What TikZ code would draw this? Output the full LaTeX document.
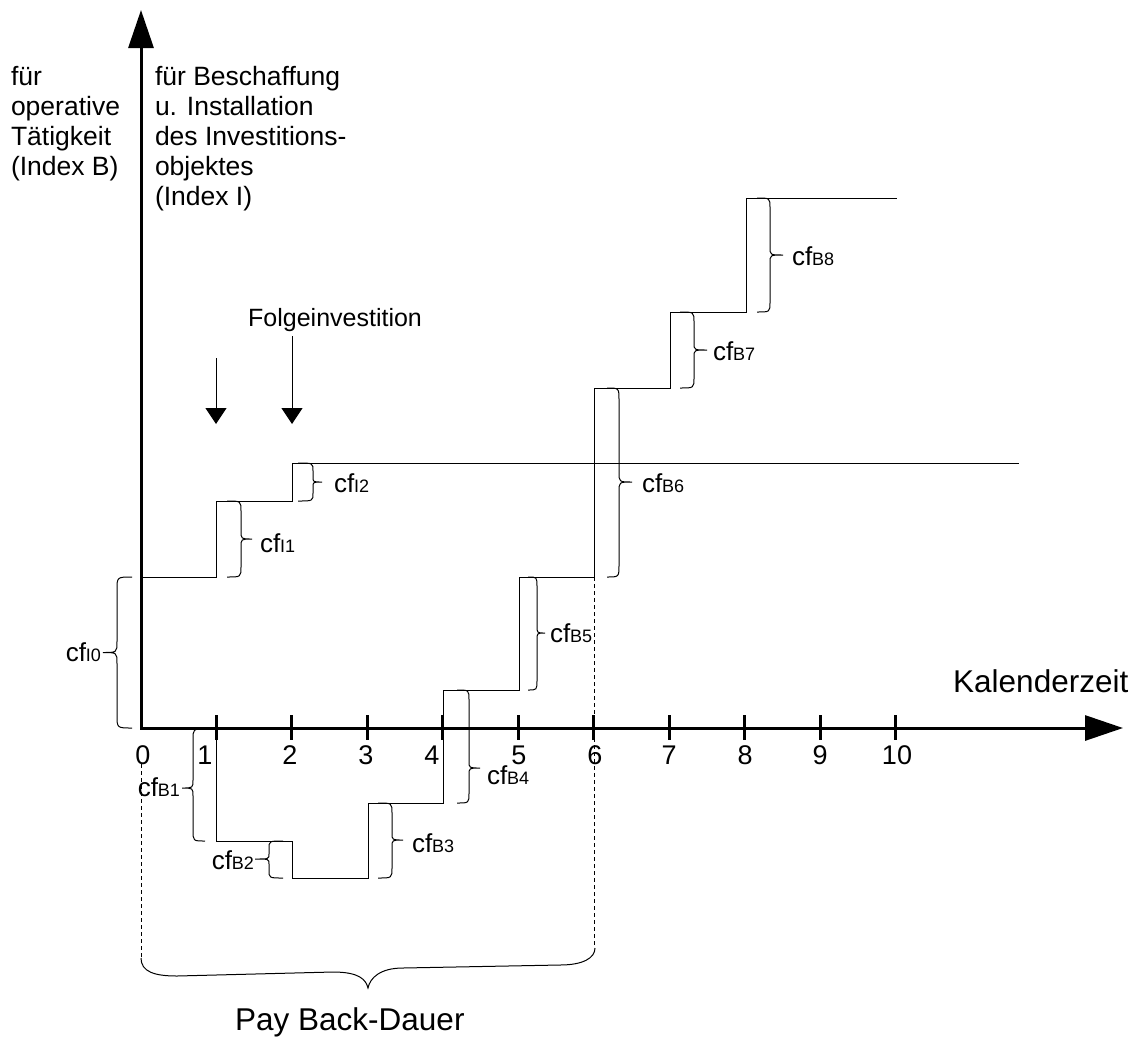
\documentclass[tikz,border=0pt]{standalone}
\usepackage{fontspec}
\setmainfont{Liberation Sans}
\usetikzlibrary{arrows.meta}

% a b c y1 y2 ym r t
\newcommand{\cfbrace}[8]{%
  \draw[bracestyle] (#1,#4) .. controls (#2,#4) .. (#2,#4+#7) -- (#2,#6-#8)
    .. controls (#2,#6) .. (#3,#6) .. controls (#2,#6) .. (#2,#6+#8)
    -- (#2,#5-#7) .. controls (#2,#5) .. (#1,#5);}
\newcommand{\cfl}[1]{{\fontsize{26}{26}\selectfont cf}{\fontsize{18}{18}\selectfont #1}}

\begin{document}
\begin{tikzpicture}[x=1pt,y=-1pt,
  axis/.style={line width=3pt,line join=miter,{Triangle[length=38pt,width=25pt]}-{Triangle[length=38pt,width=25pt]}},
  tickmark/.style={line width=3pt},
  stepline/.style={line width=1pt,line join=miter},
  bracestyle/.style={line width=1pt},
  dashline/.style={line width=1pt,dash pattern=on 4pt off 3pt},
  farrow/.style={line width=1pt,-{Triangle[length=16pt,width=21pt]}},
  txt/.style={inner sep=0pt,outer sep=0pt,font=\fontsize{26.5}{30}\selectfont},
  ticklab/.style={inner sep=0pt,anchor=base,font=\fontsize{27}{27}\selectfont},
  big/.style={inner sep=0pt,font=\fontsize{31.5}{31.5}\selectfont},
  lab/.style={inner sep=0pt,outer sep=0pt}]
\useasboundingbox (0,0) rectangle (1143,1037);

% axes
\coordinate (ytip) at (141,10);
\coordinate (origin) at (141,728);
\coordinate (xtip) at (1123,728);
\draw[axis] (ytip) -- (origin) -- (xtip);

% ticks and labels
\foreach \x/\lx/\t in {216/205/1,291/290/2,367/366/3,442/432/4,518/519/5,593/595/6,669/669/7,744/745/8,820/820/9,895/897/10}{
  \draw[tickmark] (\x,715) -- (\x,740);
  \node[ticklab] (t\t) at (\lx,764) {\t};
}
\node[ticklab] (t0) at (143,764) {0};

% axis texts
\node[txt,anchor=north west,align=left] (lefttxt) at (11,66) {für\\operative\\Tätigkeit\\(Index B)};
\node[txt,anchor=north west,align=left] (righttxt) at (155,66) {für Beschaffung\\u. Installation\\des Investitions-\\objektes\\(Index I)};
\node[big,anchor=base west] (kal) at (953,692) {Kalenderzeit};
\node[big,anchor=base west] (pay) at (235,1030) {Pay Back-Dauer};
\node[inner sep=0pt,anchor=base west,font=\fontsize{25}{25}\selectfont] (folge) at (248,326) {Folgeinvestition};

% Folgeinvestition arrows
\coordinate (fa1) at (216,358);
\coordinate (fb1) at (216,424);
\coordinate (fa2) at (292,336);
\coordinate (fb2) at (292,424);
\draw[farrow] (fa1) -- (fb1);
\draw[farrow] (fa2) -- (fb2);

% step lines
\draw[stepline] (141,577) -- (216,577) -- (216,501) -- (292,501) -- (292,463) -- (1019,463);
\draw[stepline] (216,728) -- (216,841) -- (292,841) -- (292,878) -- (368,878) -- (368,803)
  -- (443,803) -- (443,690) -- (519,690) -- (519,577) -- (594,577) -- (594,388)
  -- (670,388) -- (670,312) -- (746,312) -- (746,198) -- (897,198);

% dashed
\draw[dashline] (141,764) -- (141,958);
\draw[dashline] (594,577) -- (594,948);

% braces
\cfbrace{132}{117}{103}{577}{728}{652.5}{13}{11}
\cfbrace{227}{241}{252}{501}{577}{539}{10}{8}
\cfbrace{298}{313}{322}{463}{501}{482}{8}{5}
\cfbrace{205}{193}{182}{729}{841}{788}{11}{8}
\cfbrace{283}{269}{255}{841}{878}{859}{8}{5}
\cfbrace{378}{392}{403}{803}{878}{840}{10}{7}
\cfbrace{457}{469}{480}{690}{803}{768}{10}{7}
\cfbrace{528}{537}{545}{577}{690}{633}{10}{7}
\cfbrace{607}{619}{632}{388}{577}{482}{12}{10}
\cfbrace{680}{694}{707}{312}{388}{350}{10}{7}
\cfbrace{757}{770}{783}{198}{312}{255}{10}{8}

% pay back brace
\draw[bracestyle] (141,958) .. controls (141,972) and (155,976) .. (177,976)
  -- (333,972) .. controls (360,972) and (366,980) .. (368,988)
  .. controls (370,978) and (380,968) .. (403,968)
  -- (560,965) .. controls (583,965) and (595,958) .. (595,948);

% brace labels
\node[lab,anchor=east] (cI0) at (101,652) {\cfl{I0}};
\node[lab,anchor=west] (cI1) at (260,543) {\cfl{I1}};
\node[lab,anchor=west] (cI2) at (334,483) {\cfl{I2}};
\node[lab,anchor=east] (cB1) at (180,787) {\cfl{B1}};
\node[lab,anchor=east] (cB2) at (254,860) {\cfl{B2}};
\node[lab,anchor=west] (cB3) at (412,843) {\cfl{B3}};
\node[lab,anchor=west] (cB4) at (487,775) {\cfl{B4}};
\node[lab,anchor=west] (cB5) at (550,633) {\cfl{B5}};
\node[lab,anchor=west] (cB6) at (642,483) {\cfl{B6}};
\node[lab,anchor=west] (cB7) at (713,351) {\cfl{B7}};
\node[lab,anchor=west] (cB8) at (792,256) {\cfl{B8}};
\end{tikzpicture}
\end{document}
